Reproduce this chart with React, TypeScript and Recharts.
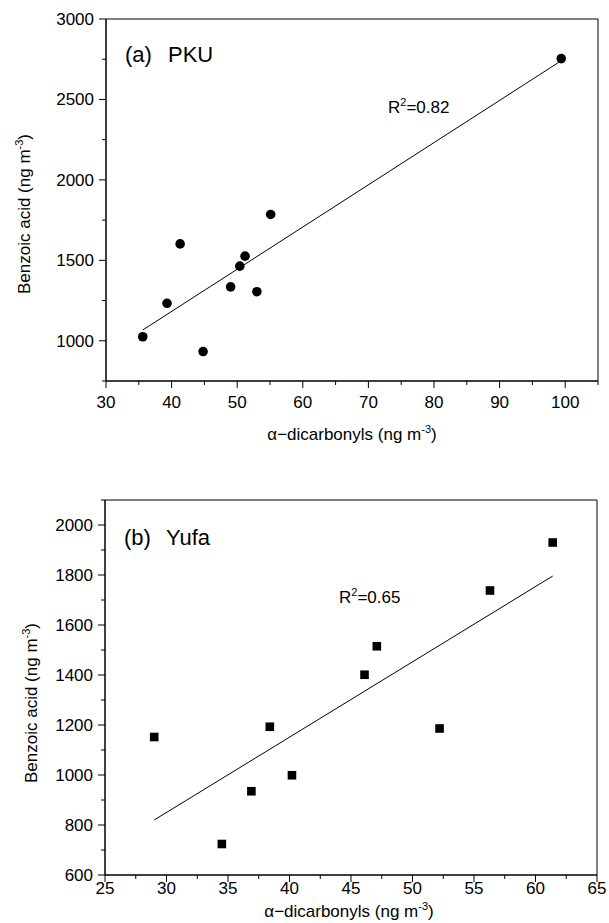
import React from 'react';
import { ScatterChart, Scatter, XAxis, YAxis, ReferenceLine, ReferenceArea } from 'recharts';

const FONT = '"Liberation Sans", Arial, sans-serif';

// (a) PKU
const pkuDicarbonyls = [35.6, 39.3, 41.3, 44.8, 49.0, 50.4, 51.2, 53.0, 55.1, 99.4];
const pkuBenzoic = [1025, 1233, 1602, 933, 1335, 1464, 1526, 1305, 1785, 2754];
const pkuFit = [
  { x: 35.6, y: 1067 },
  { x: 99.3, y: 2738 },
];
const pkuXMajor = [30, 40, 50, 60, 70, 80, 90, 100];
const pkuXMinor = [35, 45, 55, 65, 75, 85, 95, 105];
const pkuYMajor = [1000, 1500, 2000, 2500, 3000];
const pkuYMinor = [750, 1250, 1750, 2250, 2750];

// (b) Yufa
const yufaDicarbonyls = [29.0, 34.5, 36.9, 38.4, 40.2, 46.1, 47.1, 52.2, 56.3, 61.4];
const yufaBenzoic = [1152, 724, 935, 1193, 999, 1401, 1515, 1186, 1738, 1930];
const yufaFit = [
  { x: 29.0, y: 820 },
  { x: 61.4, y: 1796 },
];
const yufaXMajor = [25, 30, 35, 40, 45, 50, 55, 60, 65];
const yufaXMinor = [27.5, 32.5, 37.5, 42.5, 47.5, 52.5, 57.5, 62.5];
const yufaYMajor = [600, 800, 1000, 1200, 1400, 1600, 1800, 2000];
const yufaYMinor = [700, 900, 1100, 1300, 1500, 1700, 1900, 2100];

const pkuData = pkuDicarbonyls.map((x, i) => ({ x, y: pkuBenzoic[i] }));
const yufaData = yufaDicarbonyls.map((x, i) => ({ x, y: yufaBenzoic[i] }));

const sortNum = (a: number[]) => [...a].sort((p, q) => p - q);

function makeXTick(major: number[], offset: number) {
  return (props: any) => {
    const { x, y, payload } = props;
    const isMajor = major.includes(payload.value);
    return (
      <g>
        <line x1={x} x2={x} y1={y} y2={y + (isMajor ? 7 : 4)} stroke="#000" strokeWidth={1} />
        {isMajor && (
          <text x={x} y={y + offset} textAnchor="middle" fontSize={17} fontFamily={FONT} fill="#000">
            {payload.value}
          </text>
        )}
      </g>
    );
  };
}

function makeYTick(major: number[]) {
  return (props: any) => {
    const { x, y, payload } = props;
    const isMajor = major.includes(payload.value);
    return (
      <g>
        <line x1={x - (isMajor ? 7 : 4)} x2={x} y1={y} y2={y} stroke="#000" strokeWidth={1} />
        {isMajor && (
          <text x={x - 12} y={y + 6} textAnchor="end" fontSize={17} fontFamily={FONT} fill="#000">
            {payload.value}
          </text>
        )}
      </g>
    );
  };
}

const Circle = (p: any) => <circle cx={p.cx} cy={p.cy} r={4.8} fill="#000" />;
const Square = (p: any) => <rect x={p.cx - 4.3} y={p.cy - 4.3} width={8.6} height={8.6} fill="#000" />;

const txt = { fontFamily: FONT, fill: '#000' } as const;

export default function App() {
  return (
    <div style={{ position: 'absolute', left: 0, top: 0, width: 609, height: 923, background: '#fff' }}>
      <div style={{ position: 'absolute', left: 0, top: 0 }}>
        <ScatterChart width={609} height={440} margin={{ top: 19, right: 11, bottom: 19, left: 0 }}>
          <XAxis
            type="number"
            dataKey="x"
            domain={[30, 105]}
            ticks={sortNum([...pkuXMajor, ...pkuXMinor])}
            interval={0}
            height={40}
            tickSize={0}
            tickMargin={0}
            tickLine={false}
            axisLine={{ stroke: '#000' }}
            tick={makeXTick(pkuXMajor, 26.5)}
            allowDataOverflow
          />
          <YAxis
            type="number"
            dataKey="y"
            domain={[750, 3000]}
            ticks={sortNum([...pkuYMajor, ...pkuYMinor])}
            interval={0}
            width={106}
            tickSize={0}
            tickMargin={0}
            tickLine={false}
            axisLine={{ stroke: '#000' }}
            tick={makeYTick(pkuYMajor)}
            allowDataOverflow
          />
          <ReferenceArea x1={30} x2={105} y1={750} y2={3000} fill="none" fillOpacity={0} stroke="#000" strokeWidth={1} />
          <ReferenceLine segment={pkuFit} stroke="#000" strokeWidth={1} />
          <Scatter data={pkuData} shape={Circle} isAnimationActive={false} />
        </ScatterChart>
      </div>
      <div style={{ position: 'absolute', left: 0, top: 440 }}>
        <ScatterChart width={609} height={483} margin={{ top: 60, right: 12, bottom: 18, left: 0 }}>
          <XAxis
            type="number"
            dataKey="x"
            domain={[25, 65]}
            ticks={sortNum([...yufaXMajor, ...yufaXMinor])}
            interval={0}
            height={30}
            tickSize={0}
            tickMargin={0}
            tickLine={false}
            axisLine={{ stroke: '#000' }}
            tick={makeXTick(yufaXMajor, 18.5)}
            allowDataOverflow
          />
          <YAxis
            type="number"
            dataKey="y"
            domain={[600, 2100]}
            ticks={sortNum([...yufaYMajor, ...yufaYMinor])}
            interval={0}
            width={105}
            tickSize={0}
            tickMargin={0}
            tickLine={false}
            axisLine={{ stroke: '#000' }}
            tick={makeYTick(yufaYMajor)}
            allowDataOverflow
          />
          <ReferenceArea x1={25} x2={65} y1={600} y2={2100} fill="none" fillOpacity={0} stroke="#000" strokeWidth={1} />
          <ReferenceLine segment={yufaFit} stroke="#000" strokeWidth={1} />
          <Scatter data={yufaData} shape={Square} isAnimationActive={false} />
        </ScatterChart>
      </div>
      <svg
        width={609}
        height={923}
        style={{ position: 'absolute', left: 0, top: 0, pointerEvents: 'none' }}
      >
        {/* Panel (a) */}
        <text x={125} y={62} fontSize={22} {...txt}>(a)</text>
        <text x={168} y={62} fontSize={22} {...txt}>PKU</text>
        <text x={388} y={113} fontSize={17} {...txt}>
          R<tspan dy={-7} fontSize={11}>2</tspan><tspan dy={7}>=0.82</tspan>
        </text>
        <text x={352} y={440} fontSize={17} textAnchor="middle" {...txt}>
          α−dicarbonyls (ng m<tspan dy={-7} fontSize={11}>-3</tspan><tspan dy={7}>)</tspan>
        </text>
        <text x={30} y={214} fontSize={17} textAnchor="middle" transform="rotate(-90 30 214)" {...txt}>
          Benzoic acid (ng m<tspan dy={-7} fontSize={11}>-3</tspan><tspan dy={7}>)</tspan>
        </text>

        {/* Panel (b) */}
        <text x={124} y={545} fontSize={22} {...txt}>(b)</text>
        <text x={166} y={545} fontSize={22} {...txt}>Yufa</text>
        <text x={339} y={603} fontSize={17} {...txt}>
          R<tspan dy={-7} fontSize={11}>2</tspan><tspan dy={7}>=0.65</tspan>
        </text>
        <text x={349} y={917} fontSize={17} textAnchor="middle" {...txt}>
          α−dicarbonyls (ng m<tspan dy={-7} fontSize={11}>-3</tspan><tspan dy={7}>)</tspan>
        </text>
        <text x={37} y={703} fontSize={17} textAnchor="middle" transform="rotate(-90 37 703)" {...txt}>
          Benzoic acid (ng m<tspan dy={-7} fontSize={11}>-3</tspan><tspan dy={7}>)</tspan>
        </text>
      </svg>
    </div>
  );
}
